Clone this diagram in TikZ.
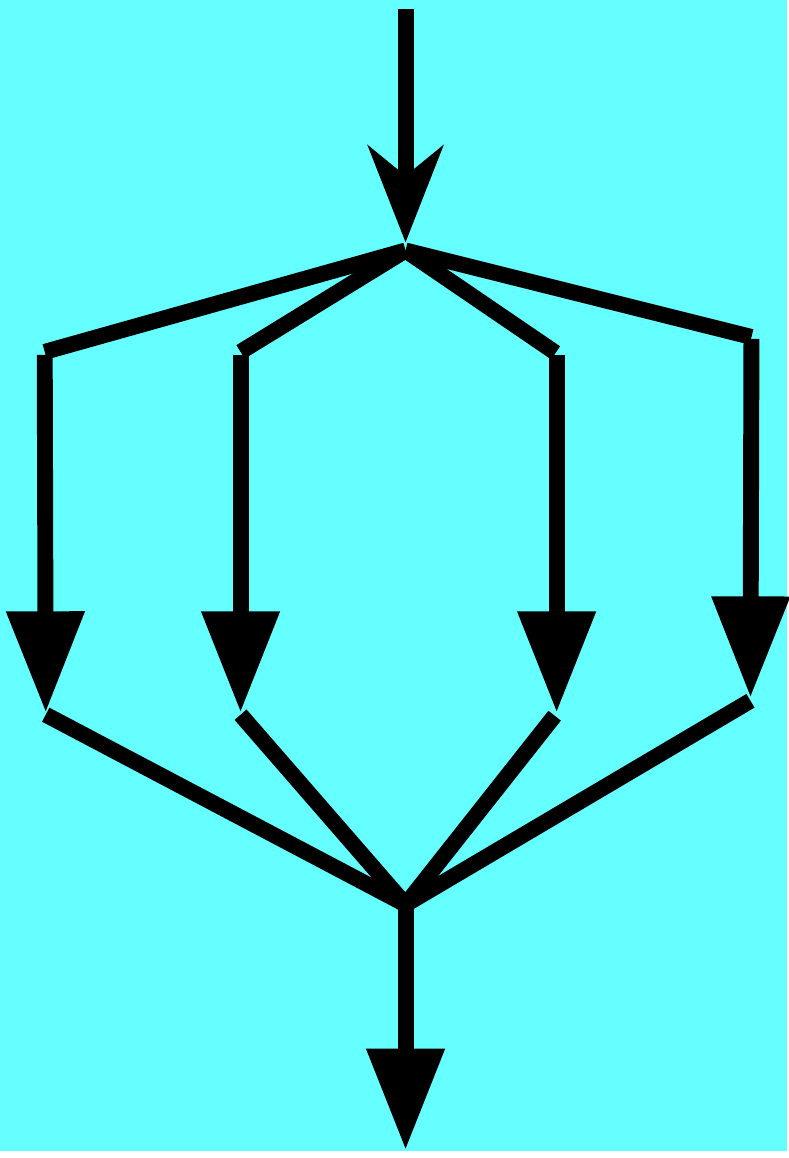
\documentclass[tikz,border=0pt]{standalone}
\usetikzlibrary{arrows.meta}
\definecolor{bgcyan}{HTML}{66FFFF}
\tikzset{flow/.style={line width=1.6mm,line cap=butt},tri/.style={flow,-{Triangle[length=10.2mm,width=7.5mm]}},barb/.style={flow,-{Stealth[length=9.7mm,width=7.5mm,inset=3mm]}}}

\begin{document}
\begin{tikzpicture}[x=0.1mm,y=-0.1mm]
\fill[bgcyan] (0,0) rectangle (792,1158);
% entry and fork
\coordinate (in) at (408,9);
\coordinate (fork) at (408,252);
\coordinate (forktip) at (408,244);
% corners of the four branches
\coordinate (c1) at (45,354);
\coordinate (c2) at (242,354);
\coordinate (c3) at (559,355);
\coordinate (c4) at (756,339);
\coordinate (v1) at (45,357);
\coordinate (v2) at (242,357);
\coordinate (v3) at (560,357);
\coordinate (v4) at (756,341);
% arrow tips
\coordinate (t1) at (46,717);
\coordinate (t2) at (242,717);
\coordinate (t3) at (560,717);
\coordinate (t4) at (755,702);
\coordinate (s1) at (46,719);
\coordinate (s2) at (242,719);
\coordinate (s3) at (558,720);
\coordinate (s4) at (755,705);
% join and exit
\coordinate (join) at (408,910);
\coordinate (out) at (408,1157);
\draw[barb] (in) -- (forktip);
\draw[flow] (fork) -- (c1);
\draw[flow] (fork) -- (c2);
\draw[flow] (fork) -- (c3);
\draw[flow] (fork) -- (c4);
\draw[tri] (v1) -- (t1);
\draw[tri] (v2) -- (t2);
\draw[tri] (v3) -- (t3);
\draw[tri] (v4) -- (t4);
\draw[flow] (s1) -- (join);
\draw[flow] (s2) -- (join);
\draw[flow] (s3) -- (join);
\draw[flow] (s4) -- (join);
\draw[tri] (join) -- (out);
\end{tikzpicture}
\end{document}
